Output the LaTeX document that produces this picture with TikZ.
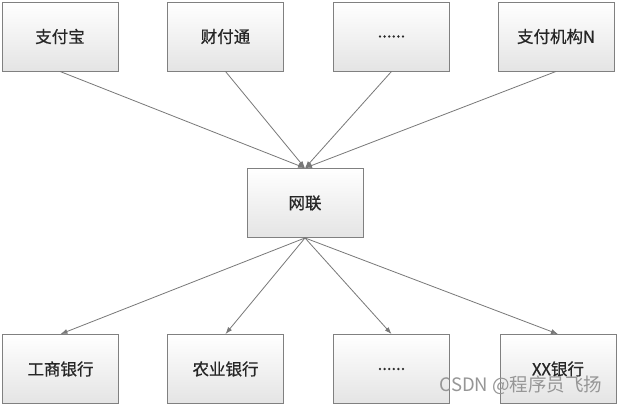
\documentclass[tikz,border=0pt]{standalone}
\usepackage{fontspec}
\setmainfont{Noto Sans CJK SC}
\newfontfamily\boxfont{Noto Sans CJK SC}[FakeBold=0.7]
\usetikzlibrary{arrows.meta}
\definecolor{BoxLine}{RGB}{128,128,128}
\definecolor{BoxShade}{RGB}{228,228,228}
\definecolor{LinkGray}{RGB}{120,120,120}
\definecolor{MarkGray}{RGB}{150,150,150}
\tikzset{
  >=Latex,
  box/.style={draw=BoxLine,line width=0.9pt,top color=white,bottom color=BoxShade,align=center,text=black!85,font=\boxfont\fontsize{16.5pt}{19pt}\selectfont,minimum width=116pt,minimum height=69pt,inner sep=0pt},
  flow/.style={-{Latex[length=7pt,width=5pt]},line width=0.8pt,draw=LinkGray},
  watermark/.style={font=\fontsize{18.5pt}{21pt}\selectfont,text=MarkGray,anchor=east}
}
\begin{document}
\begin{tikzpicture}[x=1pt,y=-1pt]
  \useasboundingbox[fill=white] (0,0) rectangle (619,410);
  % payment institutions
  \node[box] (alipay) at (60,36.5) {支付宝};
  \node[box] (tenpay) at (225.5,36.5) {财付通};
  \node[box] (moreorg) at (391.5,36.5) {......};
  \node[box] (orgN) at (556,36.5) {支付机构N};
  % clearing platform
  \node[box] (netunion) at (305,203) {网联};
  % banks
  \node[box] (icbc) at (60.5,369) {工商银行};
  \node[box] (abc) at (225.5,369) {农业银行};
  \node[box] (morebank) at (391.5,369) {......};
  \node[box] (xxbank) at (558,369) {XX银行};
  \draw[flow] (alipay.south)--(netunion.north);
  \draw[flow] (tenpay.south)--(netunion.north);
  \draw[flow] (moreorg.south)--(netunion.north);
  \draw[flow] (orgN.south)--(netunion.north);
  \draw[flow] (netunion.south)--(icbc.north);
  \draw[flow] (netunion.south)--(abc.north);
  \draw[flow] (netunion.south)--(morebank.north);
  \draw[flow] (netunion.south)--(xxbank.north);
  \node[watermark] (csdn) at (606,385) {CSDN @程序员飞扬};
\end{tikzpicture}
\end{document}
